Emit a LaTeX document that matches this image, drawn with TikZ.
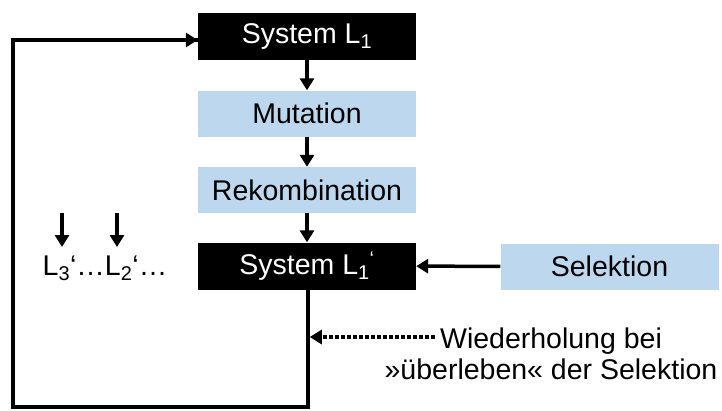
\documentclass[tikz,border=0pt]{standalone}
\usepackage{fontspec}
\setmainfont{Liberation Sans}
\usetikzlibrary{arrows.meta}
\definecolor{lblue}{HTML}{BDD7EE}
\begin{document}
\begin{tikzpicture}[x=1pt,y=-1pt,
  font=\fontsize{28.5}{32}\selectfont,
  blk/.style={fill=black,text=white,minimum width=218pt,minimum height=47pt,inner sep=0pt},
  lbl/.style={fill=lblue,text=black,minimum width=218pt,minimum height=46pt,inner sep=0pt},
  arr/.style={line width=3.5pt,-{Triangle[length=12pt,width=14pt]}},
  ln/.style={line width=3.5pt}]
\useasboundingbox (0,0) rectangle (722,410);
\node[blk] (s1) at (307,36.5) {System L\textsubscript{1}};
\node[lbl] (mu) at (307,113.5) {Mutation};
\node[lbl] (re) at (307,190) {Rekombination};
\node[blk] (s2) at (307,266) {System L\textsubscript{1}\textsuperscript{‘}};
\node[lbl] (se) at (609.5,266.5) {Selektion};
\node (ll) at (105,268) {L\textsubscript{3}‘…L\textsubscript{2}‘…};
\coordinate (a1) at (62,213);
\coordinate (b1) at (62,247);
\coordinate (a2) at (117,213);
\coordinate (b2) at (117,247);
\node[anchor=base] (w1) at (551,348) {Wiederholung bei};
\node[anchor=base] (w2) at (551,379) {»überleben« der Selektion};
\coordinate (j) at (308,337);
\coordinate (c1) at (308,407);
\coordinate (c2) at (13,407);
\coordinate (c3) at (13,40);
\draw[arr] (s1) -- (mu);
\draw[arr] (mu) -- (re);
\draw[arr] (re) -- (s2);
\draw[arr] (se) -- (s2);
\draw[arr] (a1) -- (b1);
\draw[arr] (a2) -- (b2);
\draw[ln,line join=miter] (s2.south -| j) -- (c1) -- (c2) -- (c3) -- (c3 -| s1.west);
\draw[arr] (c3) -- (c3 -| s1.west);
\draw[line width=3.5pt,dash pattern=on 3.5pt off 2.5pt,-{Triangle[length=12pt,width=14pt]}] (w1.west |- j) ++(-2,0) -- ([xshift=1.75pt]j);
\end{tikzpicture}
\end{document}
